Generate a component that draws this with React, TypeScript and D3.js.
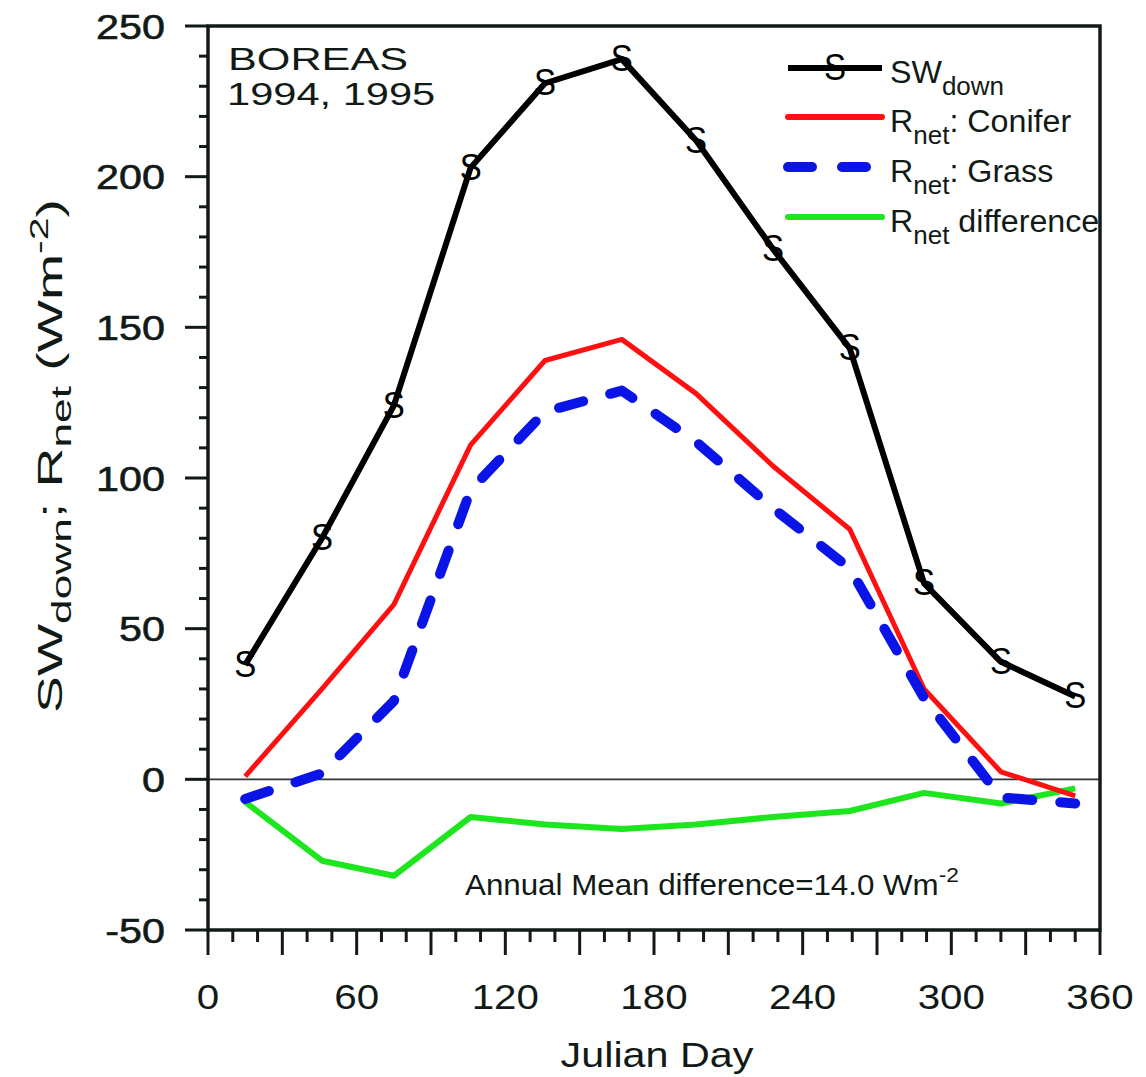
import React from "react";
import * as d3 from "d3";

const days = [15, 46, 75, 106, 136, 167, 197, 228, 259, 289, 320, 350];
const swDown = [38, 80, 124, 203, 231, 239, 212, 176, 143, 65, 39, 27.5];
const rnetConifer = [1, 30, 58, 111, 139, 146, 128, 104, 83, 30, 2.5, -5.5];
const rnetGrass = [-6.5, 2, 26, 96, 122, 129, 112, 90, 70, 27, -6, -8];
const rnetDiff = [-7.5, -27, -32, -12.5, -15, -16.5, -15, -12.5, -10.5, -4.5, -8, -3];

const xTickLabels = [0, 60, 120, 180, 240, 300, 360];
const yTickLabels = [-50, 0, 50, 100, 150, 200, 250];

const W = 1146;
const H = 1077;
const left = 208, right = 1100, top = 26, bottom = 930;
const INK = "#111a16";
const FONT = "'Liberation Sans', Arial, Helvetica, sans-serif";

export default function App() {
  const x = d3.scaleLinear().domain([0, 360]).range([left, right]);
  const y = d3.scaleLinear().domain([-50, 250]).range([bottom, top]);
  const line = (vals: number[]) =>
    d3.line<number>().x((_, i) => x(days[i])).y((v) => y(v))(vals) as string;

  const xMinor = d3.range(0, 361, 10);
  const yMinor = d3.range(-50, 251, 10);

  return (
    <svg width={W} height={H} style={{ position: "absolute", left: 0, top: 0, background: "#fff" }}
      fontFamily={FONT}>
      <rect x={0} y={0} width={W} height={H} fill="#fff" />
      {/* zero line */}
      <line x1={left} x2={right} y1={y(0)} y2={y(0)} stroke="#333" strokeWidth={1.6} />

      {/* x ticks */}
      {xMinor.map((t) => (
        <line key={"xt" + t} x1={x(t)} x2={x(t)} y1={bottom} y2={bottom + (t % 30 === 0 ? 25 : 12)}
          stroke={INK} strokeWidth={3} />
      ))}
      {/* y ticks */}
      {yMinor.map((t) => (
        <line key={"yt" + t} x1={left} x2={left - (t % 50 === 0 ? 23 : 9)} y1={y(t)} y2={y(t)}
          stroke={INK} strokeWidth={3} />
      ))}
      {/* frame */}
      <rect x={left} y={top} width={right - left} height={bottom - top} fill="none" stroke={INK} strokeWidth={3.5} />

      {/* x tick labels */}
      {xTickLabels.map((t) => (
        <text key={"xl" + t} transform={`translate(${x(t)},1009) scale(1.12,1)`} textAnchor="middle"
          fontSize={36} fill={INK}>{t}</text>
      ))}
      {/* y tick labels */}
      {yTickLabels.map((t) => (
        <text key={"yl" + t} transform={`translate(165,${y(t) + 12.5}) scale(1.18,1)`} textAnchor="end"
          fontSize={35} fill={INK} stroke={INK} strokeWidth={0.6}>{t}</text>
      ))}

      {/* axis titles */}
      <text transform="translate(657,1067) scale(1.18,1)" textAnchor="middle" fontSize={35} fill={INK}>Julian Day</text>
      <text transform="translate(62,456) rotate(-90) scale(1.58,1)" textAnchor="middle" fontSize={35} fill={INK}>
        <tspan>SW</tspan>
        <tspan fontSize={28} dy={9}>down</tspan>
        <tspan dy={-9}>; R</tspan>
        <tspan fontSize={28} dy={9}>net</tspan>
        <tspan dy={-9}> (Wm</tspan>
        <tspan fontSize={26} dy={-14}>-2</tspan>
        <tspan dy={14}>)</tspan>
      </text>

      {/* site label */}
      <text transform="translate(228,70) scale(1.35,1)" fontSize={32} fill={INK}>BOREAS</text>
      <text transform="translate(227,105) scale(1.3,1)" fontSize={32} fill={INK}>1994, 1995</text>

      {/* series */}
      <path d={line(rnetDiff)} fill="none" stroke="#1ee61e" strokeWidth={6} strokeLinejoin="round" />
      <path d={line(rnetConifer)} fill="none" stroke="#ff1010" strokeWidth={5} strokeLinejoin="round" />
      <path d={line(rnetGrass)} fill="none" stroke="#0a14e6" strokeWidth={10} strokeDasharray="25 28"
        strokeLinecap="round" strokeLinejoin="round" />
      <path d={line(swDown)} fill="none" stroke="#000" strokeWidth={6} strokeLinejoin="round" />
      {swDown.map((v, i) => (
        <text key={"s" + i} transform={`translate(${x(days[i])},${y(v) + 12}) scale(1,1.1)`} textAnchor="middle" fontSize={33}
          fill="#000">S</text>
      ))}

      {/* annotation */}
      <text transform="translate(465,895) scale(1.08,1)" fontSize={29} fill={INK}>
        Annual Mean difference=14.0 Wm<tspan fontSize={21} dy={-13}>-2</tspan>
      </text>

      {/* legend */}
      <g fill={INK} fontSize={31}>
        <line x1={788} x2={882} y1={68} y2={68} stroke="#000" strokeWidth={6} />
        <text transform="translate(835,80) scale(1,1.1)" textAnchor="middle" fontSize={33} fill="#000">S</text>
        <text transform="translate(890,83) scale(1.04,1)">SW<tspan fontSize={25} dy={12}>down</tspan></text>

        <line x1={788} x2={882} y1={117} y2={117} stroke="#ff1010" strokeWidth={6} strokeLinecap="round" />
        <text transform="translate(890,132) scale(1.04,1)">R<tspan fontSize={25} dy={12}>net</tspan><tspan dy={-12}>: Conifer</tspan></text>

        <line x1={788} x2={882} y1={167} y2={167} stroke="#0a14e6" strokeWidth={10} strokeDasharray="24 30"
          strokeLinecap="round" />
        <text transform="translate(890,182) scale(1.04,1)">R<tspan fontSize={25} dy={12}>net</tspan><tspan dy={-12}>: Grass</tspan></text>

        <line x1={788} x2={882} y1={217} y2={217} stroke="#1ee61e" strokeWidth={6} strokeLinecap="round" />
        <text transform="translate(890,232) scale(1.04,1)">R<tspan fontSize={25} dy={12}>net</tspan><tspan dy={-12}> difference</tspan></text>
      </g>
    </svg>
  );
}
